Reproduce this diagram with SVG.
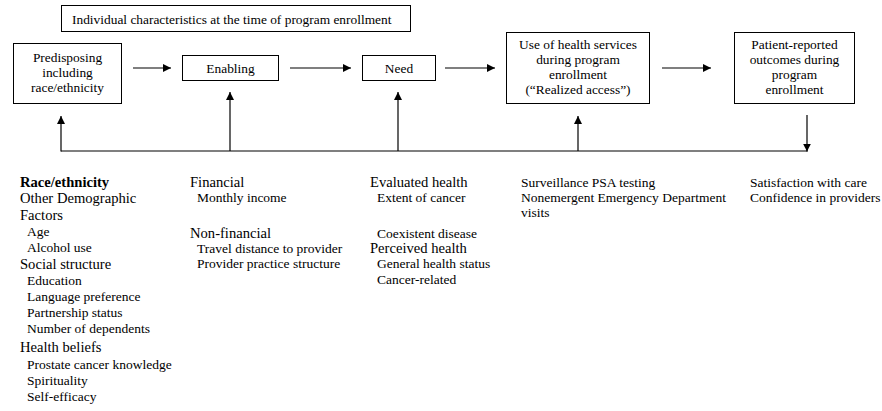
<svg xmlns="http://www.w3.org/2000/svg" width="882" height="411" viewBox="0 0 882 411">
<defs>
<marker id="ah" viewBox="0 0 10 10" refX="10" refY="5" markerWidth="8" markerHeight="8" markerUnits="userSpaceOnUse" orient="auto">
<path d="M0,0 L10,5 L0,10 z" fill="#000"/>
</marker>
</defs>
<style>
text{font-family:"Liberation Serif","Times New Roman",serif;fill:#000}
.bx{fill:#fff;stroke:#000;stroke-width:1}
.bt{font-size:13.4px;text-anchor:middle}
.h{font-size:14.6px}
.s{font-size:13.5px}
.c{stroke:#000;stroke-width:1.2;fill:none}
.a{marker-end:url(#ah)}
</style>
<rect width="882" height="411" fill="#fff"/>
<g id="header">
<rect class="bx" x="61.5" y="5.5" width="349" height="26"/>
<text x="72" y="24" style="font-size:13.4px">Individual characteristics at the time of program enrollment</text>
</g>
<g id="predisposing">
<rect class="bx" x="13.5" y="43.5" width="108" height="60"/>
<text class="bt" x="67.5" y="62">Predisposing</text>
<text class="bt" x="67.5" y="77">including</text>
<text class="bt" x="67.5" y="92">race/ethnicity</text>
</g>
<g id="enabling">
<rect class="bx" x="182.5" y="55.5" width="96" height="25"/>
<text class="bt" x="230.5" y="73">Enabling</text>
</g>
<g id="need">
<rect class="bx" x="362.5" y="55.5" width="73" height="25"/>
<text class="bt" x="399" y="73">Need</text>
</g>
<g id="use">
<rect class="bx" x="506.5" y="32.5" width="143" height="71"/>
<text class="bt" x="578" y="49">Use of health services</text>
<text class="bt" x="578" y="64">during program</text>
<text class="bt" x="578" y="79">enrollment</text>
<text class="bt" x="578" y="94">(“Realized access”)</text>
</g>
<g id="outcomes">
<rect class="bx" x="734.5" y="32.5" width="120" height="71"/>
<text class="bt" x="794.5" y="49">Patient-reported</text>
<text class="bt" x="794.5" y="64">outcomes during</text>
<text class="bt" x="794.5" y="79">program</text>
<text class="bt" x="794.5" y="94">enrollment</text>
</g>
<g id="connectors">
<line class="c a" x1="133" y1="68" x2="171" y2="68"/>
<line class="c a" x1="290" y1="68" x2="351" y2="68"/>
<line class="c a" x1="445" y1="68" x2="495" y2="68"/>
<line class="c a" x1="662" y1="68" x2="711" y2="68"/>
<line class="c" x1="61" y1="151" x2="807.6" y2="151"/>
<line class="c a" x1="61" y1="151.6" x2="61" y2="116"/>
<line class="c a" x1="230" y1="151" x2="230" y2="92"/>
<line class="c a" x1="398" y1="151" x2="398" y2="92"/>
<line class="c a" x1="578" y1="151" x2="578" y2="116"/>
<line class="c a" x1="807" y1="115" x2="807" y2="151.6"/>
</g>
<g id="col-predisposing">
<text class="h" x="20" y="187" font-weight="bold">Race/ethnicity</text>
<text class="h" x="20" y="203">Other Demographic</text>
<text class="h" x="20" y="220">Factors</text>
<text class="s" x="27" y="236">Age</text>
<text class="s" x="27" y="252">Alcohol use</text>
<text class="h" x="20" y="269">Social structure</text>
<text class="s" x="27" y="285">Education</text>
<text class="s" x="27" y="301">Language preference</text>
<text class="s" x="27" y="317">Partnership status</text>
<text class="s" x="27" y="333">Number of dependents</text>
<text class="h" x="20" y="352">Health beliefs</text>
<text class="s" x="27" y="369">Prostate cancer knowledge</text>
<text class="s" x="27" y="385">Spirituality</text>
<text class="s" x="27" y="401">Self-efficacy</text>
</g>
<g id="col-enabling">
<text class="h" x="190" y="187">Financial</text>
<text class="s" x="197" y="202">Monthly income</text>
<text class="h" x="190" y="238">Non-financial</text>
<text class="s" x="197" y="253">Travel distance to provider</text>
<text class="s" x="197" y="268">Provider practice structure</text>
</g>
<g id="col-need">
<text class="h" x="370" y="187">Evaluated health</text>
<text class="s" x="377" y="202">Extent of cancer</text>
<text class="s" x="377" y="238">Coexistent disease</text>
<text class="h" x="370" y="253">Perceived health</text>
<text class="s" x="377" y="268">General health status</text>
<text class="s" x="377" y="284">Cancer-related</text>
</g>
<g id="col-use">
<text class="s" x="521" y="187">Surveillance PSA testing</text>
<text class="s" x="521" y="202">Nonemergent Emergency Department</text>
<text class="s" x="521" y="217">visits</text>
</g>
<g id="col-outcomes">
<text class="s" x="750" y="187">Satisfaction with care</text>
<text class="s" x="750" y="202">Confidence in providers</text>
</g>
</svg>
